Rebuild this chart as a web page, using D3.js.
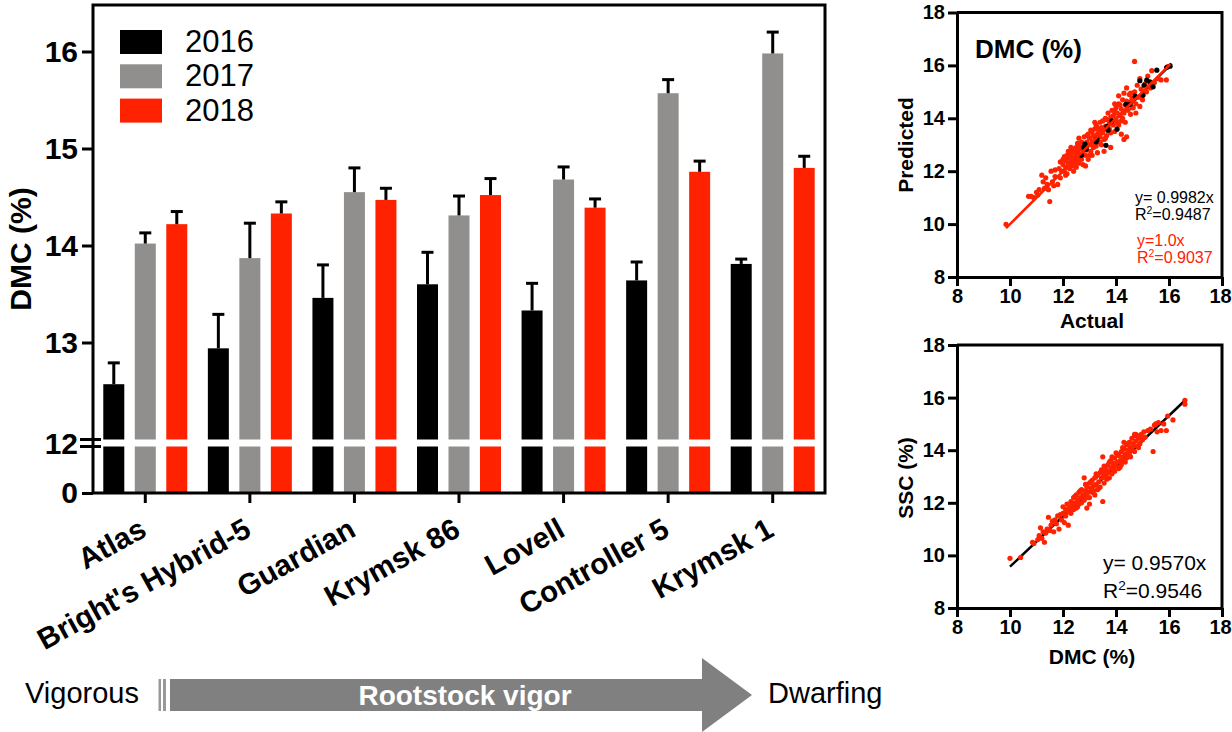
<!DOCTYPE html>
<html>
<head>
<meta charset="utf-8">
<script src="https://cdn.jsdelivr.net/npm/d3@7"></script>
<style>
  body { margin: 0; background: #fff; }
  svg { font-family: "Liberation Sans", Arial, sans-serif; }
  .axis path, .axis line { stroke: #000; stroke-width: 3; }
  .axis text { fill: #000; font-weight: bold; }
</style>
</head>
<body>
<svg id="gfx" width="1232" height="732"></svg>
<script>
// bar chart data
const categories = ["Atlas", "Bright's Hybrid-5", "Guardian", "Krymsk 86", "Lovell", "Controller 5", "Krymsk 1"];
const years = ["2016", "2017", "2018"];
const colors = ["#000000", "#908f8d", "#ff2200"];
const dmc2016 = [12.57, 12.94, 13.46, 13.60, 13.33, 13.64, 13.81];
const dmc2017 = [14.02, 13.87, 14.55, 14.31, 14.68, 15.57, 15.98];
const dmc2018 = [14.22, 14.33, 14.47, 14.52, 14.39, 14.76, 14.80];
const err2016 = [0.22, 0.35, 0.34, 0.33, 0.28, 0.19, 0.05];
const err2017 = [0.11, 0.36, 0.25, 0.20, 0.13, 0.14, 0.22];
const err2018 = [0.13, 0.12, 0.12, 0.17, 0.09, 0.11, 0.12];
const barTicks = [13, 14, 15, 16];
const scatterTicks = [8, 10, 12, 14, 16, 18];

// predicted vs actual (red = all samples, black = validation)
const predRed = [
  [9.85,9.99],[10.7,11.05],[10.8,11.05],[10.9,11.0],[11.0,11.2],[11.05,11.1],[11.1,11.3],[11.2,11.85],[11.25,11.6],[11.3,11.35],
  [11.35,11.75],[11.4,11.5],[11.45,11.3],[11.5,10.85],[11.55,12.0],[11.6,11.6],[11.65,11.45],[11.7,11.8],[11.8,11.5],[11.85,12.1],
  [11.9,11.75],[11.95,12.0],[12.0,12.45],[12.0,12.25],[12.05,12.55],[12.05,12.0],[12.1,12.4],[12.1,12.15],[12.15,12.6],[12.15,11.9],
  [12.2,12.3],[12.2,12.5],[12.25,12.1],[12.25,12.75],[12.3,12.4],[12.3,12.6],[12.35,12.2],[12.35,12.85],[12.4,12.5],[12.4,12.0],
  [12.45,12.7],[12.45,12.3],[12.5,12.9],[12.5,12.55],[12.5,12.15],[12.55,12.4],[12.55,12.75],[12.6,13.0],[12.6,12.6],[12.6,12.3],
  [12.65,12.85],[12.7,12.45],[12.7,13.1],[12.75,12.7],[12.75,12.25],[12.8,12.95],[12.8,13.3],[12.85,12.6],[12.85,12.2],[12.9,13.1],
  [12.9,12.8],[12.95,13.4],[12.95,12.45],[13.0,13.0],[13.0,13.25],[13.05,12.75],[13.05,13.55],[13.1,13.1],[13.1,12.6],[13.15,13.35],
  [13.15,12.9],[13.2,13.6],[13.2,13.2],[13.25,12.95],[13.25,13.75],[13.3,13.4],[13.3,12.7],[13.35,13.1],[13.35,13.55],[13.4,13.85],
  [13.4,13.3],[13.45,13.0],[13.45,13.65],[13.5,13.45],[13.5,13.9],[13.55,13.2],[13.55,12.75],[13.6,13.7],[13.6,14.0],[13.65,13.35],
  [13.7,13.55],[13.7,14.2],[13.75,13.8],[13.8,13.45],[13.8,14.05],[13.85,14.3],[13.9,13.75],[13.9,14.1],[13.95,13.5],[14.0,14.4],
  [14.0,13.95],[14.05,14.2],[14.1,13.75],[14.1,14.55],[14.15,14.1],[14.2,14.35],[14.2,13.9],[14.25,14.7],[14.3,13.2],[14.3,14.2],
  [14.35,14.5],[14.35,13.85],[14.4,15.15],[14.45,14.3],[14.5,14.6],[14.5,14.9],[14.55,14.15],[14.6,14.75],[14.65,14.4],[14.7,16.15],
  [14.7,15.0],[14.75,14.2],[14.75,14.55],[14.8,15.25],[14.85,14.8],[14.9,15.5],[14.9,14.45],[14.95,15.1],[15.0,14.7],[15.1,15.3],
  [15.15,15.0],[15.2,15.6],[15.3,15.15],[15.35,15.8],[15.45,15.35],[15.6,15.5],[15.7,15.45],[15.9,15.45],[15.95,15.95],
  [12.3,12.9],[12.4,12.7],[12.55,13.05],[12.65,12.55],[12.7,12.9],[12.9,13.35],[13.0,12.6],[13.1,13.5],[13.2,13.0],[13.3,13.65],
  [13.4,13.1],[13.5,13.6],[13.6,13.25],[13.65,13.95],[13.75,13.6],[13.85,13.9],[13.95,14.25],[14.05,13.85],[14.15,14.5],[14.25,14.0],
  [14.4,14.65],[14.6,14.4],[14.4,13.3],[14.2,13.4],[13.8,12.9],[12.2,12.75],[12.1,11.85],[11.9,12.35],[11.7,12.05],[12.6,13.25],
  [13.2,13.85],[13.95,14.55],[14.1,14.85],[14.3,14.95],[14.55,14.95]
];
const predBlack = [
  [16.04,15.97],[15.91,15.92],[15.54,15.82],[15.16,15.44],[15.28,15.38],[14.9,15.42],[15.4,15.19],[15.06,15.25],[14.72,14.84],[15.02,14.87],
  [14.38,14.53],[14.53,14.53],[13.84,13.9],[13.66,13.7],[13.7,13.55],[14.04,13.59],[13.28,13.21],[13.25,13.11],[13.62,12.98],[12.83,13.02],
  [12.79,12.9],[12.87,12.83],[12.7,12.6]
];
// SSC vs DMC
const sscDmc = [
  [10.0,9.89],[10.4,9.92],[10.85,10.5],[10.9,10.45],[11.05,10.6],[11.1,10.75],[11.15,11.05],[11.2,10.65],[11.25,10.9],[11.3,10.5],
  [11.35,10.85],[11.4,11.0],[11.45,11.45],[11.5,10.95],[11.55,11.15],[11.6,11.3],[11.65,10.9],[11.7,11.35],[11.75,11.2],[11.8,11.5],
  [11.85,11.0],[11.9,11.55],[11.95,11.35],[12.0,11.85],[12.0,11.6],[12.05,11.25],[12.1,11.75],[12.1,11.5],[12.15,11.95],[12.2,11.65],
  [12.2,11.15],[12.25,11.85],[12.3,12.05],[12.3,11.6],[12.35,11.9],[12.4,11.75],[12.4,12.2],[12.45,12.0],[12.5,11.8],[12.5,12.3],
  [12.55,12.1],[12.6,11.95],[12.6,12.4],[12.65,12.2],[12.7,12.0],[12.7,12.5],[12.75,12.3],[12.8,12.95],[12.8,12.1],[12.85,12.45],
  [12.9,12.25],[12.9,12.6],[12.95,12.4],[13.0,12.75],[13.0,12.2],[13.0,11.95],[13.05,12.55],[13.1,12.85],[13.1,12.4],[13.15,12.65],
  [13.2,12.95],[13.2,12.3],[13.25,12.7],[13.3,12.5],[13.3,13.05],[13.35,12.8],[13.4,13.15],[13.4,12.6],[13.45,12.95],[13.5,13.75],
  [13.5,12.05],[13.5,13.2],[13.55,12.75],[13.6,13.0],[13.6,13.35],[13.65,12.9],[13.7,13.45],[13.7,13.15],[13.75,12.95],[13.8,13.3],
  [13.8,13.6],[13.85,13.1],[13.9,13.5],[13.9,13.25],[13.95,13.7],[14.0,13.4],[14.0,13.9],[14.05,13.55],[14.1,13.3],[14.1,13.8],
  [14.15,13.6],[14.2,13.95],[14.2,13.45],[14.25,13.75],[14.3,14.05],[14.3,13.6],[14.35,13.85],[14.4,14.2],[14.4,13.7],[14.45,14.0],
  [14.5,14.3],[14.5,13.85],[14.55,14.1],[14.6,14.45],[14.65,14.25],[14.7,14.55],[14.7,13.95],[14.75,14.35],[14.8,14.15],[14.85,14.45],
  [14.9,14.25],[14.95,14.6],[15.0,14.4],[15.05,14.7],[15.1,14.5],[15.2,14.75],[15.3,14.8],[15.4,13.95],[15.45,14.95],[15.5,15.0],
  [15.55,14.7],[15.6,15.05],[15.7,14.75],[15.8,15.0],[15.9,14.75],[15.95,15.3],[16.15,15.15],[16.6,15.9],[16.6,15.75],
  [12.3,11.8],[12.45,12.25],[12.55,11.85],[12.65,12.45],[12.75,12.15],[12.85,12.7],[12.95,12.2],[13.05,12.8],[13.15,12.45],[13.25,13.0],
  [13.35,12.55],[13.45,13.25],[13.55,13.05],[13.65,13.2],[13.75,13.55],[13.85,13.35],[13.95,13.2],[14.05,13.85],[14.15,13.35],[14.25,14.1],
  [14.35,13.55],[14.45,14.25],[14.55,13.75],[14.65,14.15],[14.75,14.6],[14.85,14.1],[14.9,14.55],[14.6,14.0],[14.8,14.55],[13.25,13.1],
  [13.55,13.4],[13.85,13.75],[12.9,11.8],[14.3,14.3],[14.7,14.6]
];
const fitRed = [[9.85, 9.85], [16.05, 16.05]];
const fitBlack = [[12.7, 12.68], [16.1, 16.07]];
const fitSsc = [[10.0, 9.57], [16.6, 15.89]];

const svg = d3.select("#gfx");
const red = colors[2];

// ---------- bar chart ----------
const L = 93, R = 825, T = 5, B = 493;
const x = d3.scaleBand().domain(categories).range([L, R]);
const yUp = d3.scaleLinear().domain([12, 16]).range([439.5, 51.5]);
const yLow = d3.scaleLinear().domain([0, 12]).range([B, 446.5]);
const series = [dmc2016, dmc2017, dmc2018];
const errs = [err2016, err2017, err2018];
const barW = 21, step = 31.5;

const bars = svg.append("g");
series.forEach((vals, s) => {
  const g = bars.append("g").attr("fill", colors[s]);
  const cx = (c) => x(c) + x.bandwidth() / 2 + (s - 1) * step;
  // lower segment 0..12
  g.selectAll("rect.low").data(categories).enter().append("rect")
    .attr("x", c => cx(c) - barW / 2).attr("width", barW)
    .attr("y", yLow(12)).attr("height", yLow(0) - yLow(12));
  // upper segment 12..value
  g.selectAll("rect.up").data(vals).enter().append("rect")
    .attr("x", (v, i) => cx(categories[i]) - barW / 2).attr("width", barW)
    .attr("y", v => yUp(v)).attr("height", v => yUp(12) - yUp(v));
  // error bars
  const e = bars.append("g").attr("stroke", "#000").attr("stroke-width", 3);
  vals.forEach((v, i) => {
    const c = cx(categories[i]);
    e.append("line").attr("x1", c).attr("x2", c).attr("y1", yUp(v)).attr("y2", yUp(v + errs[s][i]));
    e.append("line").attr("x1", c - 6).attr("x2", c + 6).attr("y1", yUp(v + errs[s][i])).attr("y2", yUp(v + errs[s][i]));
  });
});

// frame
svg.append("rect").attr("x", L).attr("y", T).attr("width", R - L).attr("height", B - T)
  .attr("fill", "none").attr("stroke", "#000").attr("stroke-width", 3);

// y axis (upper part)
svg.append("g").attr("class", "axis").attr("transform", `translate(${L},0)`)
  .call(d3.axisLeft(yUp).tickValues(barTicks).tickSize(11).tickPadding(4).tickFormat(d3.format("d")))
  .call(g => g.select(".domain").remove())
  .selectAll("text").style("font-size", "30px");
// y axis (lower part)
svg.append("g").attr("class", "axis").attr("transform", `translate(${L},0)`)
  .call(d3.axisLeft(yLow).tickValues([0]).tickSize(11).tickPadding(4))
  .call(g => g.select(".domain").remove())
  .selectAll("text").style("font-size", "30px");
// break mark at 12
[439.5, 446.5].forEach(yy => svg.append("line").attr("x1", 80).attr("x2", 101)
  .attr("y1", yy).attr("y2", yy).attr("stroke", "#000").attr("stroke-width", 3));
svg.append("text").attr("x", 78).attr("y", 443).attr("dy", "0.35em").attr("text-anchor", "end")
  .style("font-size", "30px").style("font-weight", "bold").text("12");

// x axis ticks and rotated labels
const xa = svg.append("g");
categories.forEach(c => {
  const cx = x(c) + x.bandwidth() / 2;
  xa.append("line").attr("x1", cx).attr("x2", cx).attr("y1", B).attr("y2", B + 10)
    .attr("stroke", "#000").attr("stroke-width", 3);
  xa.append("text").attr("transform", `translate(${cx + 3},${B + 42}) rotate(-29)`)
    .attr("text-anchor", "end").style("font-size", "29.5px").style("font-weight", "bold").text(c);
});

// y title
svg.append("text").attr("transform", "translate(31,249) rotate(-90)").attr("text-anchor", "middle")
  .style("font-size", "30px").style("font-weight", "bold").text("DMC (%)");

// legend
const leg = svg.append("g");
years.forEach((yr, i) => {
  leg.append("rect").attr("x", 120).attr("y", 30 + i * 34.3).attr("width", 42).attr("height", 24).attr("fill", colors[i]);
  leg.append("text").attr("x", 185).attr("y", 52 + i * 34.3).style("font-size", "31px").text(yr);
});

// ---------- vigor arrow ----------
const arrow = svg.append("g");
arrow.append("rect").attr("x", 158.5).attr("y", 679).attr("width", 2.5).attr("height", 32).attr("fill", "#999");
arrow.append("rect").attr("x", 163).attr("y", 679).attr("width", 3).attr("height", 32).attr("fill", "#999");
arrow.append("path").attr("d", "M170,679 H702 V658 L752,695 L702,732 V711 H170 Z").attr("fill", "#808080");
arrow.append("text").attr("x", 465).attr("y", 705).attr("text-anchor", "middle").attr("fill", "#fff")
  .style("font-size", "28px").style("font-weight", "bold").text("Rootstock vigor");
arrow.append("text").attr("x", 25).attr("y", 703).style("font-size", "29px").text("Vigorous");
arrow.append("text").attr("x", 768).attr("y", 703).style("font-size", "29px").text("Dwarfing");

// ---------- scatter plots ----------
function scatterFrame(top, bottom, xTitle, yTitle, yTitleY, xTitleY) {
  const sx = d3.scaleLinear().domain([8, 18]).range([957, 1222]);
  const sy = d3.scaleLinear().domain([8, 18]).range([bottom, top]);
  const g = svg.append("g");
  g.append("g").attr("class", "axis").attr("transform", `translate(0,${bottom})`)
    .call(d3.axisBottom(sx).tickValues(scatterTicks).tickSize(9).tickPadding(3).tickSizeOuter(0))
    .selectAll("text").style("font-size", "20px")
    .attr("dx", d => d === 18 ? -2 : 0);
  g.append("g").attr("class", "axis").attr("transform", "translate(957,0)")
    .call(d3.axisLeft(sy).tickValues(scatterTicks).tickSize(9).tickPadding(3).tickSizeOuter(0))
    .selectAll("text").style("font-size", "20px");
  g.append("path").attr("d", `M957,${top} H1222 V${bottom}`).attr("fill", "none")
    .attr("stroke", "#000").attr("stroke-width", 3);
  g.append("text").attr("x", 1092).attr("y", xTitleY).attr("text-anchor", "middle")
    .style("font-size", "21px").style("font-weight", "bold").text(xTitle);
  g.append("text").attr("transform", `translate(913,${yTitleY}) rotate(-90)`).attr("text-anchor", "middle")
    .style("font-size", "21px").style("font-weight", "bold").text(yTitle);
  return { sx, sy, g };
}

function eq(g, xPos, yPos, size, color, slope, r2, gap) {
  g.append("text").attr("x", xPos).attr("y", yPos).attr("fill", color).style("font-size", size + "px").text(slope);
  const t = g.append("text").attr("x", xPos).attr("y", yPos + gap).attr("fill", color).style("font-size", size + "px");
  t.append("tspan").text("R");
  t.append("tspan").attr("dy", -size * 0.38).style("font-size", (size * 0.65) + "px").text("2");
  t.append("tspan").attr("dy", size * 0.38).text(r2);
}

const line = (p, sx, sy) => d3.line().x(d => sx(d[0])).y(d => sy(d[1]))(p);

// top: predicted vs actual
const topPlot = scatterFrame(12.5, 277, "Actual", "Predicted", 145, 328);
topPlot.g.append("path").attr("d", line(fitBlack, topPlot.sx, topPlot.sy)).attr("stroke", "#000").attr("stroke-width", 2.5);
topPlot.g.append("g").selectAll("circle").data(predRed).enter().append("circle")
  .attr("cx", d => topPlot.sx(d[0])).attr("cy", d => topPlot.sy(d[1])).attr("r", 2.6).attr("fill", red);
topPlot.g.append("g").selectAll("circle").data(predBlack).enter().append("circle")
  .attr("cx", d => topPlot.sx(d[0])).attr("cy", d => topPlot.sy(d[1])).attr("r", 2.6).attr("fill", "#000");
topPlot.g.append("path").attr("d", line(fitRed, topPlot.sx, topPlot.sy)).attr("stroke", red).attr("stroke-width", 2.5);
topPlot.g.append("text").attr("x", 975).attr("y", 58).style("font-size", "26px").style("font-weight", "bold").text("DMC (%)");
eq(topPlot.g, 1135, 203, 16, "#000", "y= 0.9982x", "=0.9487", 17);
eq(topPlot.g, 1137, 246, 16, red, "y=1.0x", "=0.9037", 17);

// bottom: SSC vs DMC
const botPlot = scatterFrame(345, 608, "DMC (%)", "SSC (%)", 478, 664);
botPlot.g.append("path").attr("d", line(fitSsc, botPlot.sx, botPlot.sy)).attr("stroke", "#000").attr("stroke-width", 2.5);
botPlot.g.append("g").selectAll("circle").data(sscDmc).enter().append("circle")
  .attr("cx", d => botPlot.sx(d[0])).attr("cy", d => botPlot.sy(d[1])).attr("r", 2.6).attr("fill", red);
eq(botPlot.g, 1103, 570, 21, "#000", "y= 0.9570x", "=0.9546", 28);
</script>
</body>
</html>
